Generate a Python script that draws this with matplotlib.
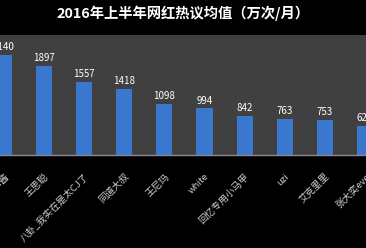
import matplotlib
matplotlib.use("Agg")
import matplotlib.pyplot as plt
from matplotlib.transforms import ScaledTranslation

plt.rcParams['font.family'] = ['Noto Sans CJK SC', 'DejaVu Sans']

names = ["papi酱", "王思聪", "八卦_我实在是太CJ了", "同道大叔", "王尼玛", "white",
         "回忆专用小马甲", "uzi", "艾克里里", "张大奕eve"]
values = [2140, 1897, 1557, 1418, 1098, 994, 842, 763, 753, 625]
title = "2016年上半年网红热议均值（万次/月）"

fig = plt.figure(figsize=(3.66, 2.48), dpi=100)
fig.patch.set_facecolor('black')
ax = fig.add_axes([0, 93/248, 1, (155 - 35)/248])
ax.set_facecolor('#404040')

x = list(range(len(names)))
ax.bar(x, values, width=0.4, color='#3a78d0', zorder=2)
for xi, v in zip(x, values):
    ax.text(xi, v + 60, str(v), ha='center', va='bottom', color='white', fontsize=7)

ax.set_yticks([])
ax.set_xticks(x)
ax.set_xticklabels(names, rotation=45, ha='right', va='top', rotation_mode='anchor',
                   color='#d0d0d0', fontsize=6.8)
# shift labels a little right, like the original
shift = ScaledTranslation(4.5 / 72, 0, fig.dpi_scale_trans)
for lab in ax.get_xticklabels():
    lab.set_transform(lab.get_transform() + shift)
ax.set_xlim(-0.1, 9.027)
ax.set_ylim(0, 2560)
ax.tick_params(axis='x', length=0, pad=12)
for s in ['top', 'left', 'right']:
    ax.spines[s].set_visible(False)
ax.spines['bottom'].set_color('#8a8a8a')
ax.spines['bottom'].set_linewidth(1)

fig.text(0.5, 1 - 13/248, title, ha='center', va='center', color='white',
         fontsize=10.3, fontweight='bold')

fig.savefig("out.png", dpi=100, facecolor='black')
